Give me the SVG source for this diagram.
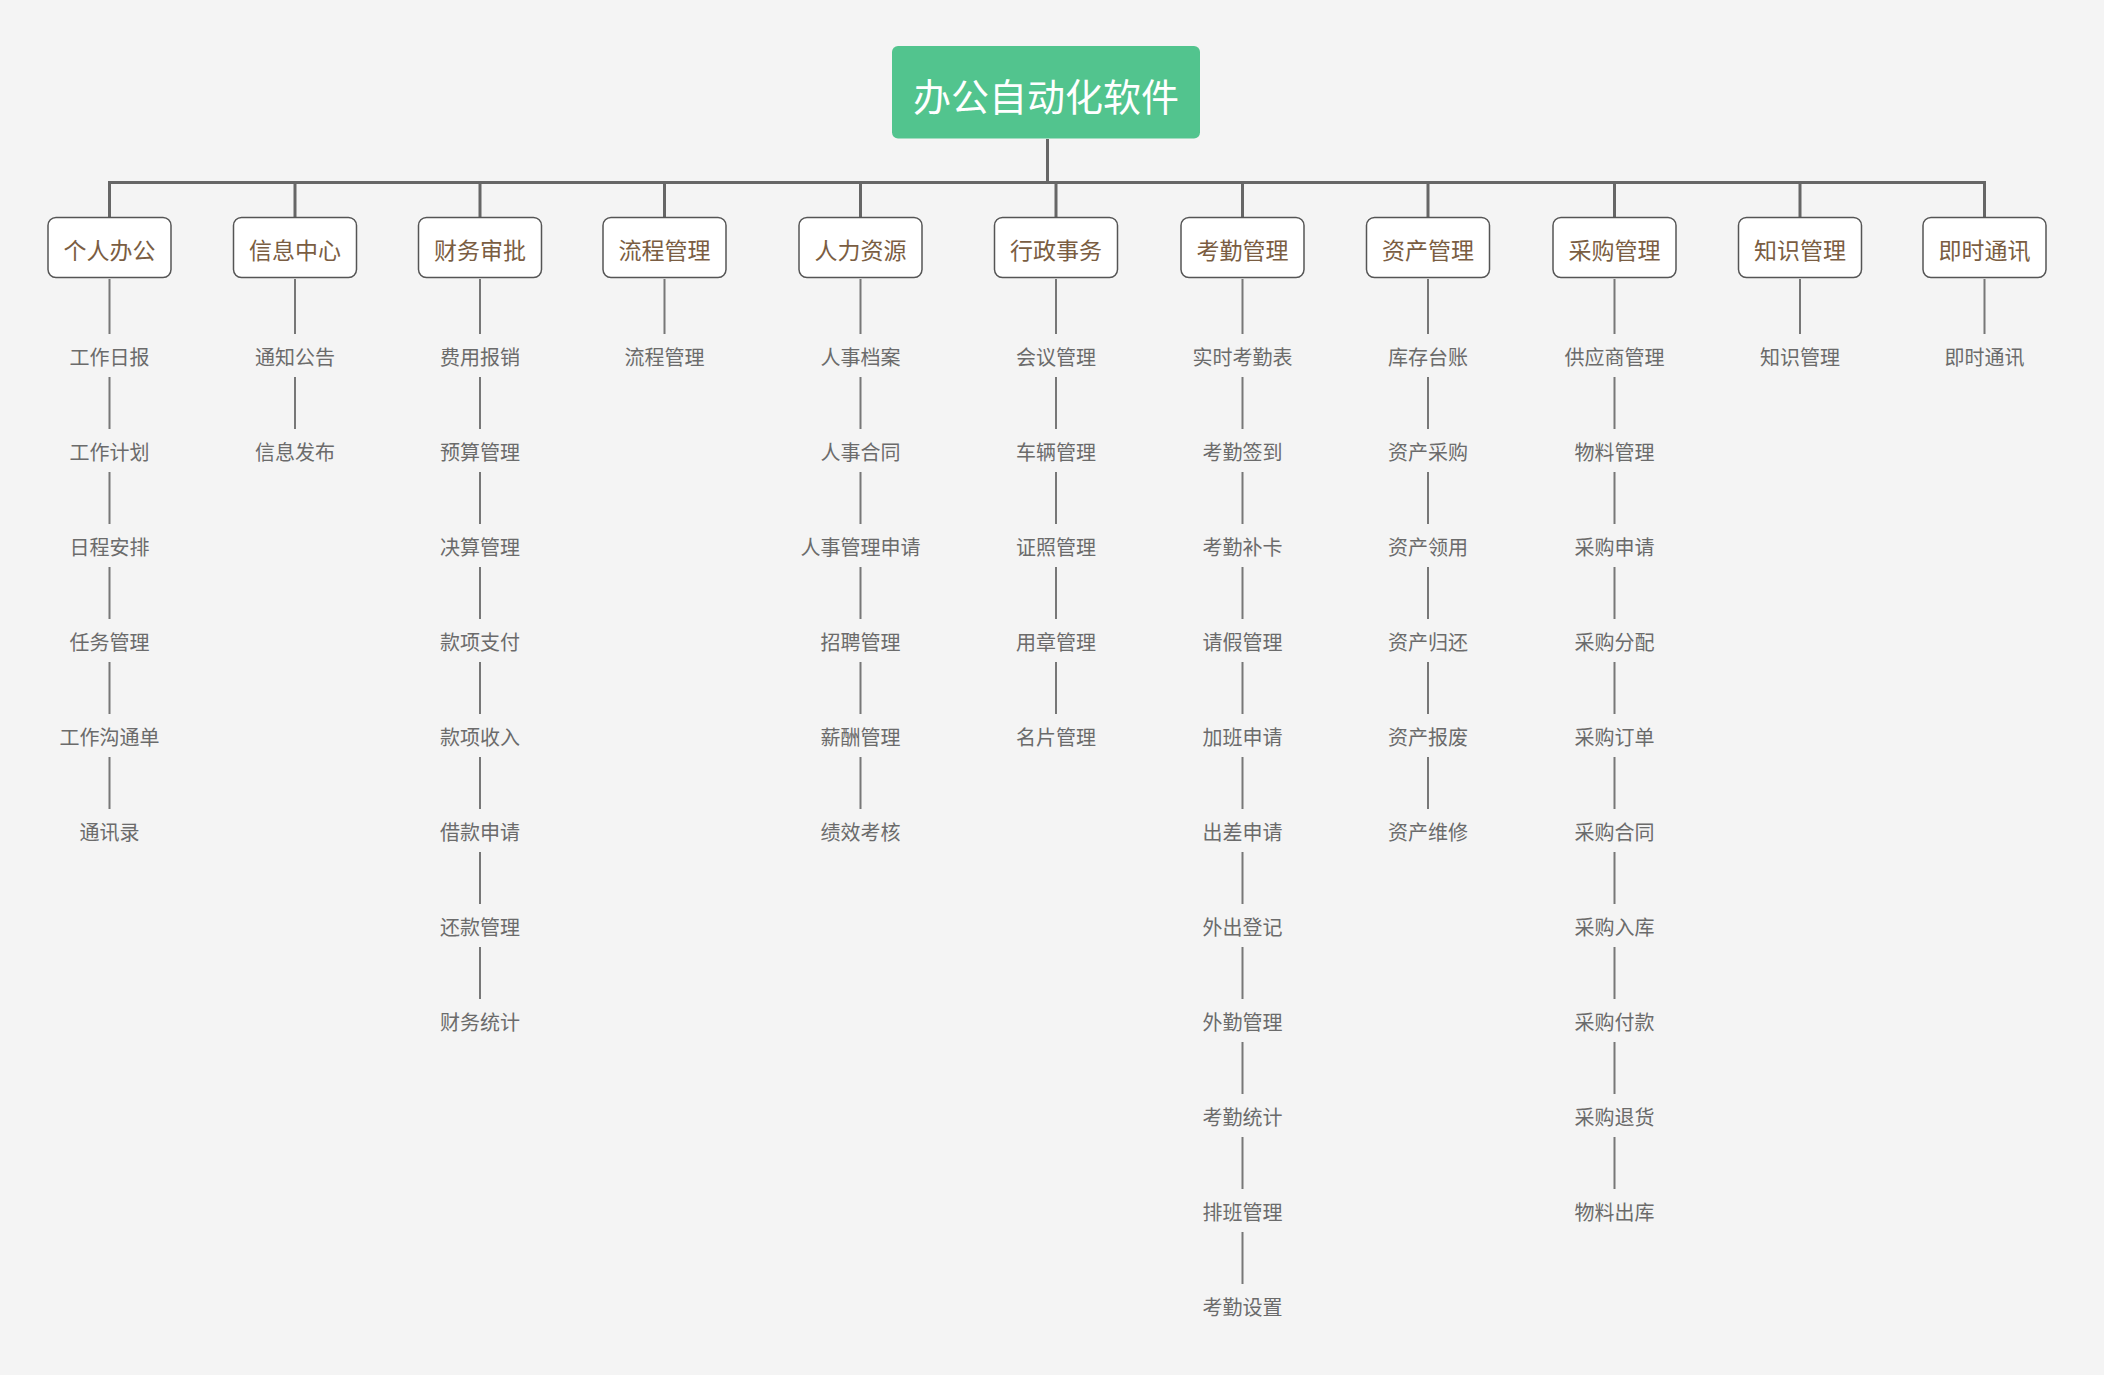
<svg xmlns="http://www.w3.org/2000/svg" width="2104" height="1375" viewBox="0 0 2104 1375">
  <style>
    text { font-family: "Noto Sans CJK SC", "Noto Sans", sans-serif; text-anchor: middle; }
    .root-box { fill: #52c48e; }
    .root-label { fill: #ffffff; font-size: 38px; }
    .branch-box { fill: #ffffff; stroke: #555555; stroke-width: 1.5; }
    .branch-label { fill: #7a5d42; font-size: 23px; }
    .leaf-label { fill: #6b6b6b; font-size: 20px; }
    .trunk { fill: none; stroke: #666666; stroke-width: 3; }
    .twig { fill: none; stroke: #777777; stroke-width: 2; }
  </style>

  <rect width="2104" height="1375" fill="#f4f4f4"/>

  <!-- connectors -->
  <g id="connectors">
    <path class="trunk" d="M1047.5 139 V182.5"/>
    <path class="trunk" d="M109.5 217 V182.5 H1984.5 V217"/>
    <path class="trunk" d="M295 182.5 V217 M480 182.5 V217 M664.5 182.5 V217 M860.5 182.5 V217 M1056 182.5 V217 M1242.5 182.5 V217 M1428 182.5 V217 M1614.5 182.5 V217 M1800 182.5 V217"/>

    <!-- 个人办公 -->
    <path class="twig" d="M109.5 279 V334 M109.5 377 V429 M109.5 472 V524 M109.5 567 V619 M109.5 662 V714 M109.5 757 V809"/>
    <!-- 信息中心 -->
    <path class="twig" d="M295 279 V334 M295 377 V429"/>
    <!-- 财务审批 -->
    <path class="twig" d="M480 279 V334 M480 377 V429 M480 472 V524 M480 567 V619 M480 662 V714 M480 757 V809 M480 852 V904 M480 947 V999"/>
    <!-- 流程管理 -->
    <path class="twig" d="M664.5 279 V334"/>
    <!-- 人力资源 -->
    <path class="twig" d="M860.5 279 V334 M860.5 377 V429 M860.5 472 V524 M860.5 567 V619 M860.5 662 V714 M860.5 757 V809"/>
    <!-- 行政事务 -->
    <path class="twig" d="M1056 279 V334 M1056 377 V429 M1056 472 V524 M1056 567 V619 M1056 662 V714"/>
    <!-- 考勤管理 -->
    <path class="twig" d="M1242.5 279 V334 M1242.5 377 V429 M1242.5 472 V524 M1242.5 567 V619 M1242.5 662 V714 M1242.5 757 V809 M1242.5 852 V904 M1242.5 947 V999 M1242.5 1042 V1094 M1242.5 1137 V1189 M1242.5 1232 V1284"/>
    <!-- 资产管理 -->
    <path class="twig" d="M1428 279 V334 M1428 377 V429 M1428 472 V524 M1428 567 V619 M1428 662 V714 M1428 757 V809"/>
    <!-- 采购管理 -->
    <path class="twig" d="M1614.5 279 V334 M1614.5 377 V429 M1614.5 472 V524 M1614.5 567 V619 M1614.5 662 V714 M1614.5 757 V809 M1614.5 852 V904 M1614.5 947 V999 M1614.5 1042 V1094 M1614.5 1137 V1189"/>
    <!-- 知识管理 -->
    <path class="twig" d="M1800 279 V334"/>
    <!-- 即时通讯 -->
    <path class="twig" d="M1984.5 279 V334"/>
  </g>

  <!-- root -->
  <g id="node-root">
    <rect class="root-box" x="892" y="46" width="308" height="92.5" rx="6"/>
    <text class="root-label" x="1046" y="111">办公自动化软件</text>
  </g>

  <!-- branches -->
  <g id="node-personal">
    <rect class="branch-box" x="48" y="217.5" width="123" height="60" rx="8"/>
    <text class="branch-label" x="109.5" y="259">个人办公</text>
    <g class="leaf-label">
      <text x="109.5" y="364.5">工作日报</text>
      <text x="109.5" y="459.5">工作计划</text>
      <text x="109.5" y="554.5">日程安排</text>
      <text x="109.5" y="649.5">任务管理</text>
      <text x="109.5" y="744.5">工作沟通单</text>
      <text x="109.5" y="839.5">通讯录</text>
    </g>
  </g>

  <g id="node-info">
    <rect class="branch-box" x="233.5" y="217.5" width="123" height="60" rx="8"/>
    <text class="branch-label" x="295" y="259">信息中心</text>
    <g class="leaf-label">
      <text x="295" y="364.5">通知公告</text>
      <text x="295" y="459.5">信息发布</text>
    </g>
  </g>

  <g id="node-finance">
    <rect class="branch-box" x="418.5" y="217.5" width="123" height="60" rx="8"/>
    <text class="branch-label" x="480" y="259">财务审批</text>
    <g class="leaf-label">
      <text x="480" y="364.5">费用报销</text>
      <text x="480" y="459.5">预算管理</text>
      <text x="480" y="554.5">决算管理</text>
      <text x="480" y="649.5">款项支付</text>
      <text x="480" y="744.5">款项收入</text>
      <text x="480" y="839.5">借款申请</text>
      <text x="480" y="934.5">还款管理</text>
      <text x="480" y="1029.5">财务统计</text>
    </g>
  </g>

  <g id="node-workflow">
    <rect class="branch-box" x="603" y="217.5" width="123" height="60" rx="8"/>
    <text class="branch-label" x="664.5" y="259">流程管理</text>
    <g class="leaf-label">
      <text x="664.5" y="364.5">流程管理</text>
    </g>
  </g>

  <g id="node-hr">
    <rect class="branch-box" x="799" y="217.5" width="123" height="60" rx="8"/>
    <text class="branch-label" x="860.5" y="259">人力资源</text>
    <g class="leaf-label">
      <text x="860.5" y="364.5">人事档案</text>
      <text x="860.5" y="459.5">人事合同</text>
      <text x="860.5" y="554.5">人事管理申请</text>
      <text x="860.5" y="649.5">招聘管理</text>
      <text x="860.5" y="744.5">薪酬管理</text>
      <text x="860.5" y="839.5">绩效考核</text>
    </g>
  </g>

  <g id="node-admin">
    <rect class="branch-box" x="994.5" y="217.5" width="123" height="60" rx="8"/>
    <text class="branch-label" x="1056" y="259">行政事务</text>
    <g class="leaf-label">
      <text x="1056" y="364.5">会议管理</text>
      <text x="1056" y="459.5">车辆管理</text>
      <text x="1056" y="554.5">证照管理</text>
      <text x="1056" y="649.5">用章管理</text>
      <text x="1056" y="744.5">名片管理</text>
    </g>
  </g>

  <g id="node-attendance">
    <rect class="branch-box" x="1181" y="217.5" width="123" height="60" rx="8"/>
    <text class="branch-label" x="1242.5" y="259">考勤管理</text>
    <g class="leaf-label">
      <text x="1242.5" y="364.5">实时考勤表</text>
      <text x="1242.5" y="459.5">考勤签到</text>
      <text x="1242.5" y="554.5">考勤补卡</text>
      <text x="1242.5" y="649.5">请假管理</text>
      <text x="1242.5" y="744.5">加班申请</text>
      <text x="1242.5" y="839.5">出差申请</text>
      <text x="1242.5" y="934.5">外出登记</text>
      <text x="1242.5" y="1029.5">外勤管理</text>
      <text x="1242.5" y="1124.5">考勤统计</text>
      <text x="1242.5" y="1219.5">排班管理</text>
      <text x="1242.5" y="1314.5">考勤设置</text>
    </g>
  </g>

  <g id="node-assets">
    <rect class="branch-box" x="1366.5" y="217.5" width="123" height="60" rx="8"/>
    <text class="branch-label" x="1428" y="259">资产管理</text>
    <g class="leaf-label">
      <text x="1428" y="364.5">库存台账</text>
      <text x="1428" y="459.5">资产采购</text>
      <text x="1428" y="554.5">资产领用</text>
      <text x="1428" y="649.5">资产归还</text>
      <text x="1428" y="744.5">资产报废</text>
      <text x="1428" y="839.5">资产维修</text>
    </g>
  </g>

  <g id="node-purchase">
    <rect class="branch-box" x="1553" y="217.5" width="123" height="60" rx="8"/>
    <text class="branch-label" x="1614.5" y="259">采购管理</text>
    <g class="leaf-label">
      <text x="1614.5" y="364.5">供应商管理</text>
      <text x="1614.5" y="459.5">物料管理</text>
      <text x="1614.5" y="554.5">采购申请</text>
      <text x="1614.5" y="649.5">采购分配</text>
      <text x="1614.5" y="744.5">采购订单</text>
      <text x="1614.5" y="839.5">采购合同</text>
      <text x="1614.5" y="934.5">采购入库</text>
      <text x="1614.5" y="1029.5">采购付款</text>
      <text x="1614.5" y="1124.5">采购退货</text>
      <text x="1614.5" y="1219.5">物料出库</text>
    </g>
  </g>

  <g id="node-knowledge">
    <rect class="branch-box" x="1738.5" y="217.5" width="123" height="60" rx="8"/>
    <text class="branch-label" x="1800" y="259">知识管理</text>
    <g class="leaf-label">
      <text x="1800" y="364.5">知识管理</text>
    </g>
  </g>

  <g id="node-im">
    <rect class="branch-box" x="1923" y="217.5" width="123" height="60" rx="8"/>
    <text class="branch-label" x="1984.5" y="259">即时通讯</text>
    <g class="leaf-label">
      <text x="1984.5" y="364.5">即时通讯</text>
    </g>
  </g>
</svg>
